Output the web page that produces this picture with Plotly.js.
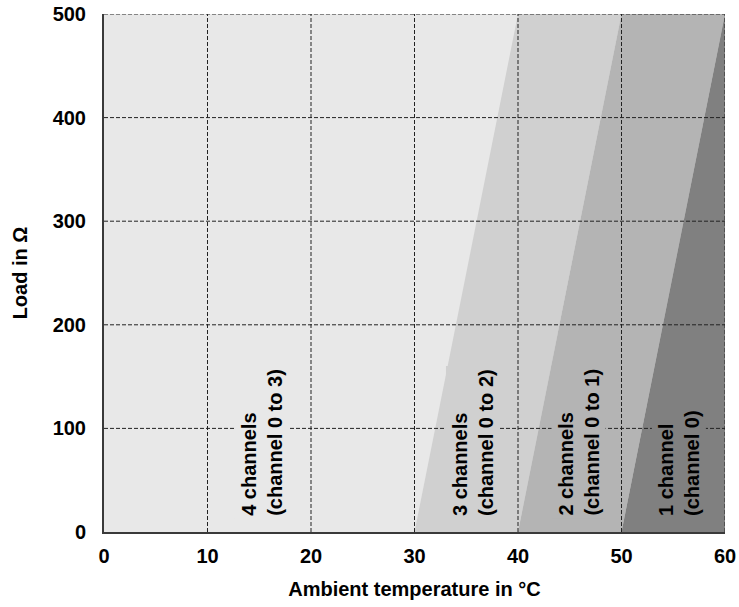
<!DOCTYPE html>
<html>
<head>
<meta charset="utf-8">
<script src="https://cdn.plot.ly/plotly-3.0.1.min.js"></script>
<style>html,body{margin:0;padding:0;background:#fff;}#chart{width:739px;height:607px;}</style>
</head>
<body>
<div id="chart"></div>
<script>
// Derating limits: temperature at which each channel count ends, at 0 Ω and at 500 Ω
const limitTempAt0 = [30, 40, 50];      // °C at 0 Ω
const limitTempAt500 = [40, 50, 60];    // °C at 500 Ω
const loadRange = [0, 500];             // Ω
const tempRange = [0, 60];              // °C
const bandColors = ['#d0d0d0', '#b4b4b4', '#808080'];
const bgColor = '#e8e8e8';

const labelTexts = [
  '4 channels<br>(channel 0 to 3)',
  '3 channels<br>(channel 0 to 2)',
  '2 channels<br>(channel 0 to 1)',
  '1 channel<br>(channel 0)'
];
const labelColors = [bgColor, bandColors[0], bandColors[1], bandColors[2]];

const xTicks = [0, 10, 20, 30, 40, 50, 60];
const yTicks = [0, 100, 200, 300, 400, 500];

const traces = [];
for (let i = 0; i < limitTempAt0.length; i++) {
  const nextAt0 = i + 1 < limitTempAt0.length ? limitTempAt0[i + 1] : tempRange[1];
  const nextAt500 = i + 1 < limitTempAt500.length ? limitTempAt500[i + 1] : tempRange[1];
  traces.push({
    type: 'scatter',
    mode: 'lines',
    x: [limitTempAt0[i], nextAt0, nextAt500, limitTempAt500[i], limitTempAt0[i]],
    y: [loadRange[0], loadRange[0], loadRange[1], loadRange[1], loadRange[0]],
    fill: 'toself',
    fillcolor: bandColors[i],
    line: {width: 0, color: bandColors[i]},
    hoverinfo: 'skip',
    showlegend: false
  });
}

const shapes = [];
xTicks.filter(v => v > tempRange[0]).forEach(v => shapes.push({
  type: 'line', xref: 'x', yref: 'y', x0: v, x1: v, y0: loadRange[0], y1: loadRange[1],
  line: {color: '#222', width: 1, dash: '4px,2px'}, layer: 'above'
}));
yTicks.filter(v => v > loadRange[0]).forEach(v => shapes.push({
  type: 'line', xref: 'x', yref: 'y', x0: tempRange[0], x1: tempRange[1], y0: v, y1: v,
  line: {color: '#222', width: 1, dash: '4px,2px'}, layer: 'above'
}));

const labelX = [15.25, 35.65, 45.85, 55.5];
const annotations = labelTexts.map((t, i) => ({
  x: labelX[i], y: 13, xref: 'x', yref: 'y',
  text: t, showarrow: false, textangle: -90,
  xanchor: 'center', yanchor: 'bottom', align: 'left',
  bgcolor: labelColors[i], borderpad: 3, borderwidth: 0,
  font: {family: 'Liberation Sans, Arial, sans-serif', size: 20, weight: 700, color: '#000'}
}));

const font = {family: 'Liberation Sans, Arial, sans-serif', size: 20, weight: 700, color: '#000'};

const layout = {
  width: 739, height: 607,
  margin: {l: 104, r: 14, t: 14, b: 75, pad: 0},
  paper_bgcolor: '#ffffff',
  plot_bgcolor: bgColor,
  font: font,
  showlegend: false,
  xaxis: {
    range: tempRange, tickvals: xTicks, ticktext: xTicks.map(String),
    showgrid: false, zeroline: false, showline: true, linecolor: '#3a3a3a', linewidth: 2,
    ticks: '', ticklabelstandoff: 5, tickfont: font, fixedrange: true,
    title: {text: 'Ambient temperature in °C', font: font, standoff: 16}
  },
  yaxis: {
    range: loadRange, tickvals: yTicks, ticktext: yTicks.map(String),
    showgrid: false, zeroline: false, showline: true, linecolor: '#3a3a3a', linewidth: 2,
    ticks: '', ticklabelstandoff: 12, tickfont: font, fixedrange: true,
    title: {text: 'Load in Ω', font: font, standoff: 20}
  },
  shapes: shapes,
  annotations: annotations
};

Plotly.newPlot('chart', traces, layout, {displayModeBar: false, staticPlot: true});
</script>
</body>
</html>
